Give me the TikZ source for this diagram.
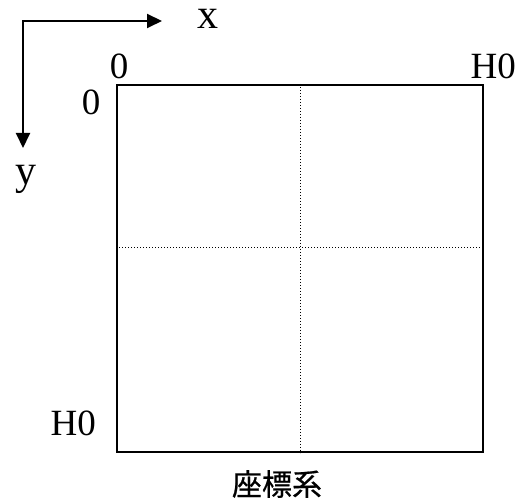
\documentclass[tikz,border=0pt]{standalone}
\usepackage{fontspec}
\setmainfont{Liberation Serif}
\newfontfamily\cjk[FakeBold=0.6]{Noto Sans CJK JP}
\usetikzlibrary{arrows.meta}
\begin{document}
\begin{tikzpicture}[x=1pt,y=-1pt,
  axisline/.style={line width=2pt,{Triangle[length=15pt,width=14pt]}-{Triangle[length=15pt,width=14pt]}},
  numlbl/.style={inner sep=0pt,font=\fontsize{37}{37}\selectfont},
  axlbl/.style={inner sep=0pt,text height=1ex,font=\fontsize{42}{42}\selectfont},
  gridline/.style={line width=1pt,dash pattern=on 1pt off 2pt},
  sqbox/.style={draw,line width=2pt,inner sep=0pt,minimum width=366pt,minimum height=367pt,anchor=north west}]
\useasboundingbox (0,0) rectangle (517,502);
\coordinate (o) at (23,21);
\coordinate (xe) at (162,21);
\coordinate (ye) at (23,148);
\draw[axisline] (ye) -- (o) -- (xe);
\node[sqbox] (sq) at (116,84) {};
\coordinate (hl) at (116,247.5);
\draw[gridline] (sq.north) -- (sq.south);
\draw[gridline] (hl) -- (hl -| sq.east);
\node[axlbl,anchor=base] (xl) at (207.5,29) {x};
\node[axlbl,anchor=base] (yl) at (26,185) {y};
\node[numlbl,anchor=base] (z1) at (119,79) {0};
\node[numlbl,anchor=base] (z2) at (91,115) {0};
\node[numlbl,anchor=base east] (h1) at (516,79) {H0};
\node[numlbl,anchor=base east] (h2) at (96,436) {H0};
\node[inner sep=0pt,font=\cjk\fontsize{30}{30}\selectfont] (cap) at (277,484) {座標系};
\end{tikzpicture}
\end{document}
